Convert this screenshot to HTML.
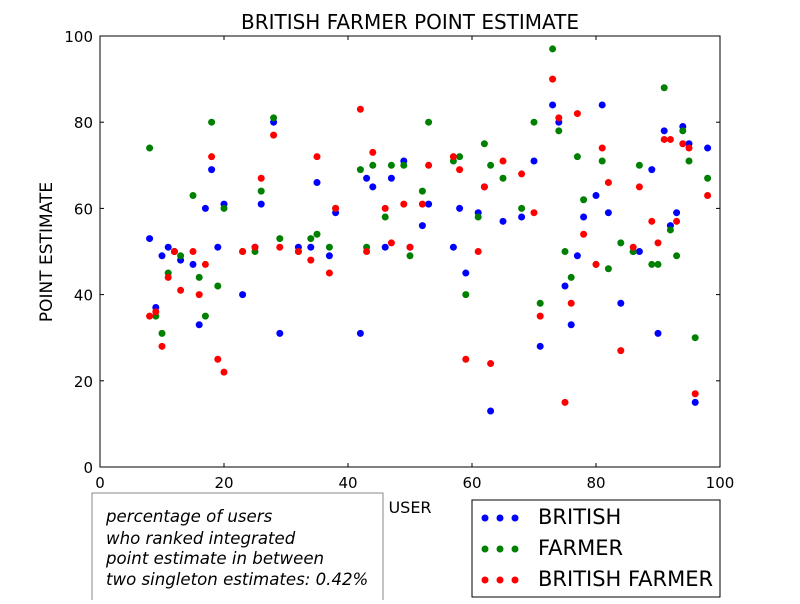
<!DOCTYPE html>
<html><head><meta charset="utf-8"><style>
body{margin:0;background:#fff;font-family:"DejaVu Sans",sans-serif}
</style></head><body>
<svg id="chart" width="800" height="600" xmlns="http://www.w3.org/2000/svg" font-family="DejaVu Sans, sans-serif">
<rect width="800" height="600" fill="#fff"/>
<text x="410" y="29" font-size="20" text-anchor="middle">BRITISH FARMER POINT ESTIMATE</text>
<g id="ticks"></g>
<g id="marks"></g>
<rect x="100" y="36" width="620" height="431" fill="none" stroke="#000" stroke-width="1"/>
<text x="410" y="513" font-size="16" text-anchor="middle">USER</text>
<text transform="translate(52,252) rotate(-90)" font-size="17" text-anchor="middle">POINT ESTIMATE</text>
<g>
<rect x="92" y="493" width="291" height="115" fill="#fff" stroke="#888"/>
<text x="106" y="522" font-size="16.6" font-style="italic">percentage of users</text>
<text x="106" y="544" font-size="16.6" font-style="italic">who ranked integrated</text>
<text x="106" y="564" font-size="16.6" font-style="italic">point estimate in between</text>
<text x="106" y="585" font-size="16.6" font-style="italic">two singleton estimates: 0.42%</text>
</g>
<g>
<rect x="472" y="500" width="248" height="97" fill="#fff" stroke="#000"/>
<g><circle cx="485" cy="518" r="3.5" fill="#00f"/><circle cx="500" cy="518" r="3.5" fill="#00f"/><circle cx="515" cy="518" r="3.5" fill="#00f"/><text x="538" y="524" font-size="21">BRITISH</text></g>
<g><circle cx="485" cy="549" r="3.5" fill="#008000"/><circle cx="500" cy="549" r="3.5" fill="#008000"/><circle cx="515" cy="549" r="3.5" fill="#008000"/><text x="538" y="555" font-size="21">FARMER</text></g>
<g><circle cx="485" cy="580" r="3.5" fill="#f00"/><circle cx="500" cy="580" r="3.5" fill="#f00"/><circle cx="515" cy="580" r="3.5" fill="#f00"/><text x="538" y="586" font-size="21">BRITISH FARMER</text></g>
</g>
</svg>
<script>
const users=[8,9,10,11,12,13,15,16,17,18,19,20,23,25,26,28,29,32,34,35,37,38,42,43,44,46,47,49,50,52,53,57,58,59,61,62,63,65,68,70,71,73,74,75,76,77,78,80,81,82,84,86,87,89,90,91,92,93,94,95,96,98];
const british=[53,37,49,51,50,48,47,33,60,69,51,61,40,51,61,80,31,51,51,66,49,59,31,67,65,51,67,71,51,56,61,51,60,45,59,65,13,57,58,71,28,84,80,42,33,49,58,63,84,59,38,50,50,69,31,78,56,59,79,75,15,74];
const farmer=[74,35,31,45,50,49,63,44,35,80,42,60,50,50,64,81,53,50,53,54,51,60,69,51,70,58,70,70,49,64,80,71,72,40,58,75,70,67,60,80,38,97,78,50,44,72,62,47,71,46,52,50,70,47,47,88,55,49,78,71,30,67];
const britishFarmer=[35,36,28,44,50,41,50,40,47,72,25,22,50,51,67,77,51,50,48,72,45,60,83,50,73,60,52,61,51,61,70,72,69,25,50,65,24,71,68,59,35,90,81,15,38,82,54,47,74,66,27,51,65,57,52,76,76,57,75,74,17,63];
const xTicks=[0,20,40,60,80,100];
const yTicks=[0,20,40,60,80,100];
const NS="http://www.w3.org/2000/svg";
const X=v=>100+v*6.2, Y=v=>467-v*4.31;
const tg=document.getElementById('ticks'), mg=document.getElementById('marks');
function mk(t,a,p){const e=document.createElementNS(NS,t);for(const k in a)e.setAttribute(k,a[k]);p.appendChild(e);return e;}
xTicks.forEach(t=>{
  const l=mk('line',{x1:X(t),x2:X(t),y1:467,y2:463,stroke:'#000'},tg);
  
  
  mk('line',{x1:X(t),x2:X(t),y1:36,y2:40,stroke:'#000'},tg);
  const s=mk('text',{x:X(t),y:488,'font-size':15,'text-anchor':'middle'},tg);s.textContent=t;
  
  
});
yTicks.forEach(t=>{
  const l=mk('line',{x1:100,x2:104,y1:Y(t),y2:Y(t),stroke:'#000'},tg);
  
  
  mk('line',{x1:716,x2:720,y1:Y(t),y2:Y(t),stroke:'#000'},tg);
  const s=mk('text',{x:93,y:Y(t)+6,'font-size':15,'text-anchor':'end'},tg);s.textContent=t;
  
  
});
[[british,'#00f','british-point'],[farmer,'#008000','farmer-point'],[britishFarmer,'#f00','british-farmer-point']].forEach(([arr,c,n])=>{
  arr.forEach((v,i)=>{
    const p=mk('circle',{cx:X(users[i]),cy:Y(v),r:3.5,fill:c},mg);
    
    
  });
});
</script>
</body></html>
